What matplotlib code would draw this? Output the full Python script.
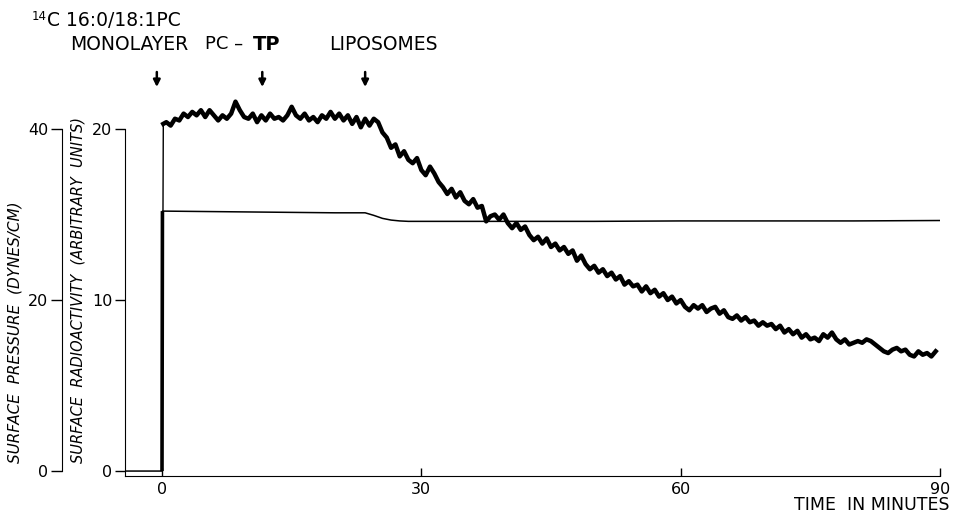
import numpy as np
import matplotlib
matplotlib.use("Agg")
import matplotlib.pyplot as plt

# surface radioactivity trace (arbitrary units)
radio_t = [0.0, 0.15,
           0.5, 1.0, 1.5, 2.0, 2.5, 3.0, 3.5, 4.0, 4.5, 5.0,
           5.5, 6.0, 6.5, 7.0, 7.5, 8.0, 8.5, 9.0, 9.5, 10.0,
           10.5, 11.0, 11.5, 12.0, 12.5, 13.0, 13.5, 14.0, 14.5, 15.0,
           15.5, 16.0, 16.5, 17.0, 17.5, 18.0, 18.5, 19.0, 19.5, 20.0,
           20.5, 21.0, 21.5, 22.0, 22.5, 23.0, 23.5, 24.0, 24.5, 25.0,
           25.5, 26.0, 26.5, 27.0, 27.5, 28.0, 28.5, 29.0, 29.5, 30.0,
           30.5, 31.0, 31.5, 32.0, 32.5, 33.0, 33.5, 34.0, 34.5, 35.0,
           35.5, 36.0, 36.5, 37.0, 37.5, 38.0, 38.5, 39.0, 39.5, 40.0,
           40.5, 41.0, 41.5, 42.0, 42.5, 43.0, 43.5, 44.0, 44.5, 45.0,
           45.5, 46.0, 46.5, 47.0, 47.5, 48.0, 48.5, 49.0, 49.5, 50.0,
           50.5, 51.0, 51.5, 52.0, 52.5, 53.0, 53.5, 54.0, 54.5, 55.0,
           55.5, 56.0, 56.5, 57.0, 57.5, 58.0, 58.5, 59.0, 59.5, 60.0,
           60.5, 61.0, 61.5, 62.0, 62.5, 63.0, 63.5, 64.0, 64.5, 65.0,
           65.5, 66.0, 66.5, 67.0, 67.5, 68.0, 68.5, 69.0, 69.5, 70.0,
           70.5, 71.0, 71.5, 72.0, 72.5, 73.0, 73.5, 74.0, 74.5, 75.0,
           75.5, 76.0, 76.5, 77.0, 77.5, 78.0, 78.5, 79.0, 79.5, 80.0,
           80.5, 81.0, 81.5, 82.0, 82.5, 83.0, 83.5, 84.0, 84.5, 85.0,
           85.5, 86.0, 86.5, 87.0, 87.5, 88.0, 88.5, 89.0, 89.5]
radio = [0.0, 20.3,
         20.4, 20.2, 20.6, 20.5, 20.9, 20.7, 21.0, 20.8, 21.1, 20.7,
         21.1, 20.8, 20.5, 20.8, 20.6, 20.9, 21.6, 21.1, 20.7, 20.6,
         20.9, 20.4, 20.8, 20.5, 20.9, 20.6, 20.7, 20.5, 20.8, 21.3,
         20.8, 20.6, 20.9, 20.5, 20.7, 20.4, 20.8, 20.6, 21.0, 20.6,
         20.9, 20.5, 20.8, 20.3, 20.7, 20.1, 20.6, 20.2, 20.6, 20.4,
         19.8, 19.5, 18.9, 19.1, 18.4, 18.7, 18.2, 18.0, 18.3, 17.6,
         17.3, 17.8, 17.4, 16.9, 16.6, 16.2, 16.5, 16.0, 16.3, 15.8,
         15.6, 15.9, 15.4, 15.5, 14.6, 14.9, 15.0, 14.7, 15.0, 14.5,
         14.2, 14.5, 14.1, 14.3, 13.8, 13.5, 13.7, 13.3, 13.6, 13.1,
         13.3, 12.9, 13.1, 12.7, 12.9, 12.3, 12.6, 12.1, 11.8, 12.0,
         11.6, 11.8, 11.4, 11.6, 11.2, 11.4, 10.9, 11.1, 10.8, 10.9,
         10.5, 10.8, 10.4, 10.6, 10.2, 10.4, 10.0, 10.2, 9.8, 10.0,
         9.6, 9.4, 9.7, 9.5, 9.7, 9.3, 9.5, 9.6, 9.2, 9.4,
         9.0, 8.9, 9.1, 8.8, 9.0, 8.7, 8.8, 8.5, 8.7, 8.5,
         8.6, 8.3, 8.5, 8.1, 8.3, 8.0, 8.2, 7.8, 8.0, 7.7,
         7.8, 7.6, 8.0, 7.8, 8.1, 7.7, 7.5, 7.7, 7.4, 7.5,
         7.6, 7.5, 7.7, 7.6, 7.4, 7.2, 7.0, 6.9, 7.1, 7.2,
         7.0, 7.1, 6.8, 6.7, 7.0, 6.8, 6.9, 6.7, 7.0]

# surface pressure trace (dynes/cm)
press_t = [-4.3, 0.0, 0.05, 5, 10, 15, 20, 23.5, 24.5, 25.5, 26.5, 27.5,
           28.5, 30, 40, 50, 60, 70, 80, 90]
press = [0, 0, 30.4, 30.35, 30.3, 30.25, 30.2, 30.2, 29.9, 29.55, 29.35,
         29.25, 29.2, 29.2, 29.2, 29.2, 29.25, 29.25, 29.25, 29.3]

arrow_t = [-0.6, 11.6, 23.5]
x_ticks = [0, 30, 60, 90]
radio_ticks = [0, 10, 20]
press_ticks = [0, 20, 40]

plt.rcParams['font.family'] = ['DejaVu Sans']

fig = plt.figure(figsize=(9.55, 5.13), dpi=100)
ax = fig.add_axes([0.1309, 0.0721, 0.8534, 0.7431])
ax2 = ax.twinx()

ax.set_xlim(-4.28, 90)
ax.set_ylim(-0.29, 22)
ax2.set_ylim(-0.58, 44)

# radioactivity: fast thin rise then the thick noisy trace
ax.plot(radio_t[:2], radio[:2], color='k', lw=1.0, solid_capstyle='butt')
ax.plot(radio_t[1:], radio[1:], color='k', lw=3.2, solid_joinstyle='round')

# pressure: thin line, heavier pen on the jump
ax2.plot(press_t, press, color='k', lw=1.1)
ax2.plot(press_t[1:3], press[1:3], color='k', lw=2.6, solid_capstyle='butt')

for s in ['top', 'right']:
    ax.spines[s].set_visible(False)
ax.spines['left'].set_bounds(-0.29, 20)
ax.set_xticks(x_ticks)
ax.set_yticks(radio_ticks)
ax.tick_params(axis='x', direction='in', length=6, width=1, pad=4, labelsize=11.5)
ax.tick_params(axis='y', direction='out', length=7, width=1, pad=2, labelsize=11.5)

for s in ['top', 'right', 'bottom']:
    ax2.spines[s].set_visible(False)
ax2.yaxis.tick_left()
ax2.spines['left'].set_position(('outward', 45.4))
ax2.spines['left'].set_bounds(0, 40)
ax2.set_yticks(press_ticks)
ax2.tick_params(axis='y', direction='out', length=8, width=1, pad=2, labelsize=11.5)

# y labels
fig.text(15 / 955, 1 - 463 / 513, 'SURFACE  PRESSURE  (DYNES/CM)', rotation=90,
         style='italic', fontsize=11, ha='center', va='bottom')
fig.text(78 / 955, 1 - 463 / 513, 'SURFACE  RADIOACTIVITY  (ARBITRARY  UNITS)',
         rotation=90, style='italic', fontsize=10.5, ha='center', va='bottom')
fig.text(872 / 955, 1 - 505 / 513, 'TIME  IN MINUTES', fontsize=12.5,
         ha='center', va='center')

# additions marked with arrows
for t in arrow_t:
    ax.annotate('', xy=(t, 1 - 87 / 513), xytext=(t, 1 - 72 / 513),
                xycoords=('data', 'figure fraction'),
                textcoords=('data', 'figure fraction'),
                arrowprops=dict(arrowstyle='-|>', color='k', lw=1.8,
                                mutation_scale=10, shrinkA=0, shrinkB=0))

fig.text(32 / 955, 1 - 17 / 513, '14', fontsize=8.5, ha='left', va='center')
fig.text(47 / 955, 1 - 21 / 513, 'C 16:0/18:1PC', fontsize=13.5, ha='left', va='center')
fig.text(129 / 955, 1 - 44 / 513, 'MONOLAYER', fontsize=13.5, ha='center', va='center')
fig.text(205 / 955, 1 - 44 / 513, 'PC \u2013', fontsize=13, ha='left', va='center')
fig.text(253 / 955, 1 - 44 / 513, 'TP', fontsize=14, weight='bold', ha='left', va='center')
fig.text(383 / 955, 1 - 44 / 513, 'LIPOSOMES', fontsize=13.5, ha='center', va='center')

fig.savefig('out.png', dpi=100)
